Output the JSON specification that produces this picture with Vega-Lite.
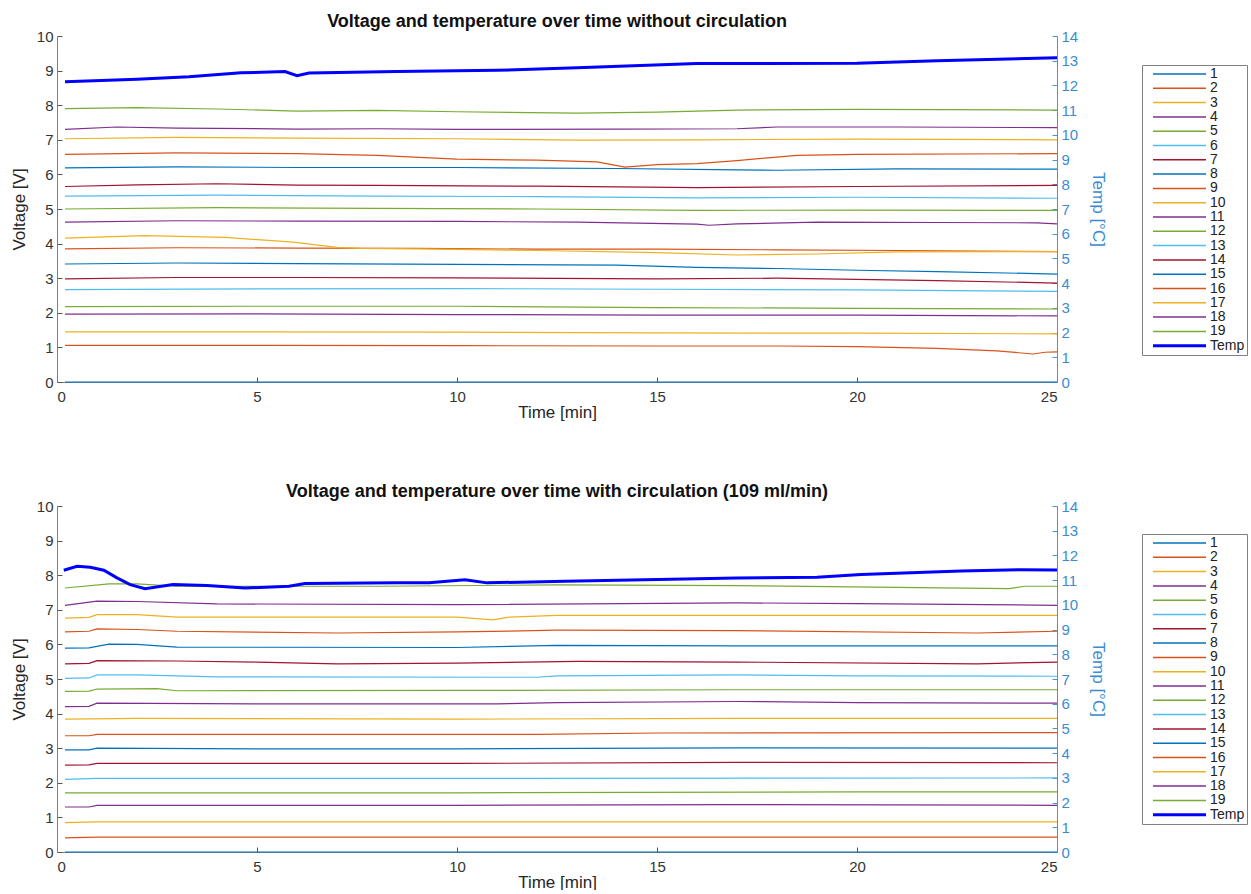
{
"$schema": "https://vega.github.io/schema/vega-lite/v6.json",
"padding": {"left": 10, "top": 13, "right": 0, "bottom": 0},
"background": "white",
"data": {"values": [
{"p":"A","s":"1","t":0.2,"v":0},{"p":"A","s":"1","t":25,"v":0},
{"p":"A","s":"2","t":0.2,"v":1.06},{"p":"A","s":"2","t":5,"v":1.06},{"p":"A","s":"2","t":10,"v":1.05},{"p":"A","s":"2","t":15,"v":1.04},{"p":"A","s":"2","t":18,"v":1.04},{"p":"A","s":"2","t":20,"v":1.02},{"p":"A","s":"2","t":22,"v":0.97},{"p":"A","s":"2","t":23.5,"v":0.9},{"p":"A","s":"2","t":24.4,"v":0.81},{"p":"A","s":"2","t":24.7,"v":0.86},{"p":"A","s":"2","t":25,"v":0.87},
{"p":"A","s":"3","t":0.2,"v":1.45},{"p":"A","s":"3","t":5,"v":1.45},{"p":"A","s":"3","t":10,"v":1.44},{"p":"A","s":"3","t":15,"v":1.42},{"p":"A","s":"3","t":20,"v":1.41},{"p":"A","s":"3","t":25,"v":1.39},
{"p":"A","s":"4","t":0.2,"v":1.96},{"p":"A","s":"4","t":5,"v":1.97},{"p":"A","s":"4","t":10,"v":1.95},{"p":"A","s":"4","t":15,"v":1.93},{"p":"A","s":"4","t":20,"v":1.93},{"p":"A","s":"4","t":25,"v":1.91},
{"p":"A","s":"5","t":0.2,"v":2.18},{"p":"A","s":"5","t":5,"v":2.19},{"p":"A","s":"5","t":10,"v":2.19},{"p":"A","s":"5","t":15,"v":2.15},{"p":"A","s":"5","t":20,"v":2.13},{"p":"A","s":"5","t":25,"v":2.11},
{"p":"A","s":"6","t":0.2,"v":2.67},{"p":"A","s":"6","t":5,"v":2.69},{"p":"A","s":"6","t":10,"v":2.7},{"p":"A","s":"6","t":15,"v":2.68},{"p":"A","s":"6","t":20,"v":2.66},{"p":"A","s":"6","t":25,"v":2.62},
{"p":"A","s":"7","t":0.2,"v":2.98},{"p":"A","s":"7","t":3,"v":3.02},{"p":"A","s":"7","t":6,"v":3.02},{"p":"A","s":"7","t":10,"v":3.01},{"p":"A","s":"7","t":15,"v":2.98},{"p":"A","s":"7","t":18,"v":3.0},{"p":"A","s":"7","t":22,"v":2.93},{"p":"A","s":"7","t":25,"v":2.86},
{"p":"A","s":"8","t":0.2,"v":3.41},{"p":"A","s":"8","t":3,"v":3.44},{"p":"A","s":"8","t":6,"v":3.42},{"p":"A","s":"8","t":10,"v":3.4},{"p":"A","s":"8","t":14,"v":3.38},{"p":"A","s":"8","t":16,"v":3.31},{"p":"A","s":"8","t":18,"v":3.28},{"p":"A","s":"8","t":20,"v":3.23},{"p":"A","s":"8","t":22,"v":3.19},{"p":"A","s":"8","t":25,"v":3.12},
{"p":"A","s":"9","t":0.2,"v":3.85},{"p":"A","s":"9","t":3,"v":3.88},{"p":"A","s":"9","t":6,"v":3.87},{"p":"A","s":"9","t":9,"v":3.86},{"p":"A","s":"9","t":12,"v":3.84},{"p":"A","s":"9","t":15,"v":3.84},{"p":"A","s":"9","t":18,"v":3.82},{"p":"A","s":"9","t":21,"v":3.8},{"p":"A","s":"9","t":25,"v":3.77},
{"p":"A","s":"10","t":0.2,"v":4.16},{"p":"A","s":"10","t":2.2,"v":4.23},{"p":"A","s":"10","t":4.2,"v":4.18},{"p":"A","s":"10","t":5.9,"v":4.04},{"p":"A","s":"10","t":7,"v":3.89},{"p":"A","s":"10","t":7.6,"v":3.86},{"p":"A","s":"10","t":9,"v":3.85},{"p":"A","s":"10","t":12,"v":3.8},{"p":"A","s":"10","t":15,"v":3.74},{"p":"A","s":"10","t":17,"v":3.67},{"p":"A","s":"10","t":19,"v":3.7},{"p":"A","s":"10","t":21,"v":3.76},{"p":"A","s":"10","t":25,"v":3.77},
{"p":"A","s":"11","t":0.2,"v":4.62},{"p":"A","s":"11","t":3,"v":4.66},{"p":"A","s":"11","t":6,"v":4.65},{"p":"A","s":"11","t":10,"v":4.64},{"p":"A","s":"11","t":13,"v":4.62},{"p":"A","s":"11","t":16,"v":4.56},{"p":"A","s":"11","t":16.3,"v":4.53},{"p":"A","s":"11","t":17,"v":4.57},{"p":"A","s":"11","t":19,"v":4.62},{"p":"A","s":"11","t":22,"v":4.61},{"p":"A","s":"11","t":24.5,"v":4.6},{"p":"A","s":"11","t":25,"v":4.57},
{"p":"A","s":"12","t":0.2,"v":5.0},{"p":"A","s":"12","t":4,"v":5.04},{"p":"A","s":"12","t":8,"v":5.02},{"p":"A","s":"12","t":12,"v":5.0},{"p":"A","s":"12","t":16,"v":4.96},{"p":"A","s":"12","t":20,"v":4.97},{"p":"A","s":"12","t":25,"v":4.96},
{"p":"A","s":"13","t":0.2,"v":5.37},{"p":"A","s":"13","t":4,"v":5.4},{"p":"A","s":"13","t":8,"v":5.37},{"p":"A","s":"13","t":12,"v":5.36},{"p":"A","s":"13","t":16,"v":5.32},{"p":"A","s":"13","t":20,"v":5.34},{"p":"A","s":"13","t":25,"v":5.31},
{"p":"A","s":"14","t":0.2,"v":5.65},{"p":"A","s":"14","t":2,"v":5.7},{"p":"A","s":"14","t":4,"v":5.73},{"p":"A","s":"14","t":6,"v":5.69},{"p":"A","s":"14","t":8,"v":5.68},{"p":"A","s":"14","t":12,"v":5.66},{"p":"A","s":"14","t":16,"v":5.62},{"p":"A","s":"14","t":20,"v":5.65},{"p":"A","s":"14","t":25,"v":5.68},
{"p":"A","s":"15","t":0.2,"v":6.19},{"p":"A","s":"15","t":3,"v":6.22},{"p":"A","s":"15","t":6,"v":6.2},{"p":"A","s":"15","t":10,"v":6.2},{"p":"A","s":"15","t":14,"v":6.17},{"p":"A","s":"15","t":17,"v":6.13},{"p":"A","s":"15","t":18,"v":6.12},{"p":"A","s":"15","t":21,"v":6.16},{"p":"A","s":"15","t":25,"v":6.15},
{"p":"A","s":"16","t":0.2,"v":6.58},{"p":"A","s":"16","t":3,"v":6.62},{"p":"A","s":"16","t":6,"v":6.6},{"p":"A","s":"16","t":8,"v":6.55},{"p":"A","s":"16","t":10,"v":6.44},{"p":"A","s":"16","t":12,"v":6.41},{"p":"A","s":"16","t":13.5,"v":6.36},{"p":"A","s":"16","t":14.2,"v":6.21},{"p":"A","s":"16","t":15,"v":6.28},{"p":"A","s":"16","t":16,"v":6.31},{"p":"A","s":"16","t":17,"v":6.4},{"p":"A","s":"16","t":18.5,"v":6.55},{"p":"A","s":"16","t":20,"v":6.58},{"p":"A","s":"16","t":25,"v":6.6},
{"p":"A","s":"17","t":0.2,"v":7.03},{"p":"A","s":"17","t":3,"v":7.07},{"p":"A","s":"17","t":6,"v":7.05},{"p":"A","s":"17","t":10,"v":7.03},{"p":"A","s":"17","t":13,"v":6.99},{"p":"A","s":"17","t":16,"v":7.0},{"p":"A","s":"17","t":20,"v":7.02},{"p":"A","s":"17","t":25,"v":7.0},
{"p":"A","s":"18","t":0.2,"v":7.3},{"p":"A","s":"18","t":1.5,"v":7.37},{"p":"A","s":"18","t":3,"v":7.34},{"p":"A","s":"18","t":6,"v":7.31},{"p":"A","s":"18","t":8,"v":7.32},{"p":"A","s":"18","t":10,"v":7.3},{"p":"A","s":"18","t":14,"v":7.31},{"p":"A","s":"18","t":17,"v":7.32},{"p":"A","s":"18","t":18,"v":7.37},{"p":"A","s":"18","t":21,"v":7.37},{"p":"A","s":"18","t":25,"v":7.35},
{"p":"A","s":"19","t":0.2,"v":7.9},{"p":"A","s":"19","t":2,"v":7.93},{"p":"A","s":"19","t":4,"v":7.89},{"p":"A","s":"19","t":6,"v":7.83},{"p":"A","s":"19","t":8,"v":7.85},{"p":"A","s":"19","t":10,"v":7.81},{"p":"A","s":"19","t":13,"v":7.77},{"p":"A","s":"19","t":15,"v":7.8},{"p":"A","s":"19","t":17,"v":7.86},{"p":"A","s":"19","t":20,"v":7.88},{"p":"A","s":"19","t":25,"v":7.86},
{"p":"A","s":"Temp","t":0.2,"v":12.15},{"p":"A","s":"Temp","t":2,"v":12.25},{"p":"A","s":"Temp","t":3.3,"v":12.35},{"p":"A","s":"Temp","t":4.6,"v":12.51},{"p":"A","s":"Temp","t":5.7,"v":12.56},{"p":"A","s":"Temp","t":6.0,"v":12.39},{"p":"A","s":"Temp","t":6.3,"v":12.5},{"p":"A","s":"Temp","t":8.5,"v":12.56},{"p":"A","s":"Temp","t":11,"v":12.61},{"p":"A","s":"Temp","t":13,"v":12.72},{"p":"A","s":"Temp","t":16,"v":12.89},{"p":"A","s":"Temp","t":17,"v":12.89},{"p":"A","s":"Temp","t":20,"v":12.9},{"p":"A","s":"Temp","t":22,"v":13.0},{"p":"A","s":"Temp","t":25,"v":13.12},
{"p":"B","s":"1","t":0.2,"v":0},{"p":"B","s":"1","t":25,"v":0},
{"p":"B","s":"2","t":0.2,"v":0.41},{"p":"B","s":"2","t":1,"v":0.43},{"p":"B","s":"2","t":10,"v":0.43},{"p":"B","s":"2","t":25,"v":0.43},
{"p":"B","s":"3","t":0.2,"v":0.85},{"p":"B","s":"3","t":1,"v":0.87},{"p":"B","s":"3","t":25,"v":0.87},
{"p":"B","s":"4","t":0.2,"v":1.3},{"p":"B","s":"4","t":0.8,"v":1.3},{"p":"B","s":"4","t":1,"v":1.35},{"p":"B","s":"4","t":10,"v":1.35},{"p":"B","s":"4","t":17,"v":1.37},{"p":"B","s":"4","t":25,"v":1.35},
{"p":"B","s":"5","t":0.2,"v":1.71},{"p":"B","s":"5","t":10,"v":1.71},{"p":"B","s":"5","t":20,"v":1.74},{"p":"B","s":"5","t":25,"v":1.74},
{"p":"B","s":"6","t":0.2,"v":2.1},{"p":"B","s":"6","t":1,"v":2.13},{"p":"B","s":"6","t":12,"v":2.13},{"p":"B","s":"6","t":25,"v":2.14},
{"p":"B","s":"7","t":0.2,"v":2.51},{"p":"B","s":"7","t":0.8,"v":2.52},{"p":"B","s":"7","t":1,"v":2.56},{"p":"B","s":"7","t":10,"v":2.56},{"p":"B","s":"7","t":17,"v":2.59},{"p":"B","s":"7","t":25,"v":2.58},
{"p":"B","s":"8","t":0.2,"v":2.95},{"p":"B","s":"8","t":0.8,"v":2.95},{"p":"B","s":"8","t":1,"v":3.0},{"p":"B","s":"8","t":5,"v":2.98},{"p":"B","s":"8","t":10,"v":2.98},{"p":"B","s":"8","t":17,"v":3.01},{"p":"B","s":"8","t":25,"v":3.0},
{"p":"B","s":"9","t":0.2,"v":3.36},{"p":"B","s":"9","t":0.8,"v":3.36},{"p":"B","s":"9","t":1,"v":3.4},{"p":"B","s":"9","t":12,"v":3.4},{"p":"B","s":"9","t":15,"v":3.44},{"p":"B","s":"9","t":25,"v":3.45},
{"p":"B","s":"10","t":0.2,"v":3.84},{"p":"B","s":"10","t":2,"v":3.86},{"p":"B","s":"10","t":10,"v":3.84},{"p":"B","s":"10","t":17,"v":3.86},{"p":"B","s":"10","t":25,"v":3.86},
{"p":"B","s":"11","t":0.2,"v":4.2},{"p":"B","s":"11","t":0.8,"v":4.21},{"p":"B","s":"11","t":1,"v":4.3},{"p":"B","s":"11","t":5,"v":4.28},{"p":"B","s":"11","t":11,"v":4.28},{"p":"B","s":"11","t":12.5,"v":4.32},{"p":"B","s":"11","t":17,"v":4.35},{"p":"B","s":"11","t":20,"v":4.32},{"p":"B","s":"11","t":25,"v":4.3},
{"p":"B","s":"12","t":0.2,"v":4.64},{"p":"B","s":"12","t":0.8,"v":4.65},{"p":"B","s":"12","t":1,"v":4.71},{"p":"B","s":"12","t":2.5,"v":4.72},{"p":"B","s":"12","t":3,"v":4.66},{"p":"B","s":"12","t":10,"v":4.67},{"p":"B","s":"12","t":17,"v":4.69},{"p":"B","s":"12","t":25,"v":4.69},
{"p":"B","s":"13","t":0.2,"v":5.02},{"p":"B","s":"13","t":0.8,"v":5.03},{"p":"B","s":"13","t":1,"v":5.12},{"p":"B","s":"13","t":2,"v":5.12},{"p":"B","s":"13","t":4,"v":5.06},{"p":"B","s":"13","t":12,"v":5.05},{"p":"B","s":"13","t":12.5,"v":5.09},{"p":"B","s":"13","t":17,"v":5.12},{"p":"B","s":"13","t":20,"v":5.09},{"p":"B","s":"13","t":25,"v":5.08},
{"p":"B","s":"14","t":0.2,"v":5.44},{"p":"B","s":"14","t":0.8,"v":5.45},{"p":"B","s":"14","t":1,"v":5.53},{"p":"B","s":"14","t":3,"v":5.52},{"p":"B","s":"14","t":5,"v":5.49},{"p":"B","s":"14","t":7,"v":5.44},{"p":"B","s":"14","t":10,"v":5.46},{"p":"B","s":"14","t":13,"v":5.51},{"p":"B","s":"14","t":17,"v":5.49},{"p":"B","s":"14","t":23,"v":5.44},{"p":"B","s":"14","t":25,"v":5.49},
{"p":"B","s":"15","t":0.2,"v":5.89},{"p":"B","s":"15","t":0.8,"v":5.9},{"p":"B","s":"15","t":1.3,"v":6.01},{"p":"B","s":"15","t":2,"v":6.0},{"p":"B","s":"15","t":3,"v":5.92},{"p":"B","s":"15","t":10,"v":5.91},{"p":"B","s":"15","t":12.5,"v":5.97},{"p":"B","s":"15","t":17,"v":5.96},{"p":"B","s":"15","t":25,"v":5.96},
{"p":"B","s":"16","t":0.2,"v":6.36},{"p":"B","s":"16","t":0.8,"v":6.38},{"p":"B","s":"16","t":1,"v":6.45},{"p":"B","s":"16","t":2,"v":6.43},{"p":"B","s":"16","t":3,"v":6.38},{"p":"B","s":"16","t":7,"v":6.33},{"p":"B","s":"16","t":10,"v":6.36},{"p":"B","s":"16","t":12.5,"v":6.41},{"p":"B","s":"16","t":17,"v":6.4},{"p":"B","s":"16","t":23,"v":6.33},{"p":"B","s":"16","t":25,"v":6.38},
{"p":"B","s":"17","t":0.2,"v":6.76},{"p":"B","s":"17","t":0.8,"v":6.78},{"p":"B","s":"17","t":1,"v":6.86},{"p":"B","s":"17","t":2,"v":6.86},{"p":"B","s":"17","t":3,"v":6.79},{"p":"B","s":"17","t":10,"v":6.79},{"p":"B","s":"17","t":10.9,"v":6.71},{"p":"B","s":"17","t":11.3,"v":6.79},{"p":"B","s":"17","t":12.5,"v":6.84},{"p":"B","s":"17","t":25,"v":6.84},
{"p":"B","s":"18","t":0.2,"v":7.13},{"p":"B","s":"18","t":1,"v":7.25},{"p":"B","s":"18","t":2,"v":7.24},{"p":"B","s":"18","t":4,"v":7.17},{"p":"B","s":"18","t":10,"v":7.15},{"p":"B","s":"18","t":17,"v":7.2},{"p":"B","s":"18","t":20,"v":7.18},{"p":"B","s":"18","t":25,"v":7.13},
{"p":"B","s":"19","t":0.2,"v":7.63},{"p":"B","s":"19","t":1.3,"v":7.75},{"p":"B","s":"19","t":2,"v":7.75},{"p":"B","s":"19","t":3,"v":7.68},{"p":"B","s":"19","t":8,"v":7.68},{"p":"B","s":"19","t":12.5,"v":7.72},{"p":"B","s":"19","t":17,"v":7.7},{"p":"B","s":"19","t":23.8,"v":7.61},{"p":"B","s":"19","t":24.2,"v":7.68},{"p":"B","s":"19","t":25,"v":7.68},
{"p":"B","s":"Temp","t":0.17,"v":11.4},{"p":"B","s":"Temp","t":0.5,"v":11.56},{"p":"B","s":"Temp","t":0.83,"v":11.52},{"p":"B","s":"Temp","t":1.17,"v":11.4},{"p":"B","s":"Temp","t":1.5,"v":11.09},{"p":"B","s":"Temp","t":1.83,"v":10.82},{"p":"B","s":"Temp","t":2.2,"v":10.65},{"p":"B","s":"Temp","t":2.9,"v":10.82},{"p":"B","s":"Temp","t":3.75,"v":10.78},{"p":"B","s":"Temp","t":4.7,"v":10.68},{"p":"B","s":"Temp","t":5.8,"v":10.75},{"p":"B","s":"Temp","t":6.2,"v":10.86},{"p":"B","s":"Temp","t":8.5,"v":10.89},{"p":"B","s":"Temp","t":9.3,"v":10.89},{"p":"B","s":"Temp","t":10.2,"v":11.02},{"p":"B","s":"Temp","t":10.75,"v":10.89},{"p":"B","s":"Temp","t":12.7,"v":10.96},{"p":"B","s":"Temp","t":17,"v":11.09},{"p":"B","s":"Temp","t":19,"v":11.12},{"p":"B","s":"Temp","t":20.1,"v":11.23},{"p":"B","s":"Temp","t":22.6,"v":11.37},{"p":"B","s":"Temp","t":24.1,"v":11.42},{"p":"B","s":"Temp","t":25,"v":11.41}
]},
"config": {
  "font": "Liberation Sans",
  "view": {"stroke": null},
  "axis": {"grid": false, "labelFontSize": 15, "titleFontSize": 17, "titleFontWeight": "normal", "labelColor": "#333333", "titleColor": "#262626", "domainColor": "#7f7f7f", "tickColor": "#555555", "tickSize": -5, "labelPadding": 9, "titlePadding": 4},
  "axisLeft": {"titlePadding": 8},
  "axisRight": {"titlePadding": 11},
  "axisBottom": {"labelPadding": 12, "titlePadding": 0},
  "title": {"fontSize": 18, "fontWeight": "bold", "color": "#111111", "offset": -2, "anchor": "middle"},
  "legend": {"labelFontSize": 14, "labelColor": "#222222", "symbolType": "M0.4,0H11", "symbolSize": 100, "symbolStrokeWidth": 1.5, "strokeColor": "#808080", "fillColor": "white", "padding": 2, "rowPadding": 0.3, "labelOffset": 52}
},
"spacing": 63,
"resolve": {"scale": {"color": "independent"}},
"vconcat": [
 {
  "title": "Voltage and temperature over time without circulation",
  "width": 1000, "height": 346,
  "resolve": {"scale": {"y": "independent"}},
  "layer": [
   {"transform": [{"filter": "datum.p == 'A' && datum.s != 'Temp'"}],
    "mark": {"type": "line", "strokeWidth": 1.2},
    "encoding": {
     "x": {"field": "t", "type": "quantitative", "scale": {"domain": [0, 25], "nice": false}, "axis": {"title": "Time [min]", "values": [0,5,10,15,20,25]}},
     "y": {"field": "v", "type": "quantitative", "scale": {"domain": [0, 10], "nice": false}, "axis": {"orient": "left", "title": "Voltage [V]", "values": [0,1,2,3,4,5,6,7,8,9,10]}},
     "color": {"field": "s", "type": "nominal", "scale": {"domain": ["1","2","3","4","5","6","7","8","9","10","11","12","13","14","15","16","17","18","19","Temp"], "range": ["#0072BD","#D95319","#EDB120","#7E2F8E","#77AC30","#4DBEEE","#A2142F","#0072BD","#D95319","#EDB120","#7E2F8E","#77AC30","#4DBEEE","#A2142F","#0072BD","#D95319","#EDB120","#7E2F8E","#77AC30","#0000FF"]}, "legend": {"title": null, "orient": "none", "legendX": 1085, "legendY": 29, "encode": {"symbols": {"update": {"strokeWidth": {"signal": "datum.value === 'Temp' ? 3 : 1.5"}}}}}}
    }},
   {"transform": [{"filter": "datum.p == 'A' && datum.s == 'Temp'"}],
    "mark": {"type": "line", "strokeWidth": 3},
    "encoding": {
     "x": {"field": "t", "type": "quantitative"},
     "y": {"field": "v", "type": "quantitative", "scale": {"domain": [0, 14], "nice": false}, "axis": {"orient": "right", "title": "Temp [°C]", "values": [0,1,2,3,4,5,6,7,8,9,10,11,12,13,14], "domainColor": "#4a94d4", "tickColor": "#4a94d4", "labelColor": "#3b8ccf", "titleColor": "#3b8ccf"}},
     "color": {"field": "s", "type": "nominal"}
    }}
  ]
 },
 {
  "title": "Voltage and temperature over time with circulation (109 ml/min)",
  "width": 1000, "height": 346,
  "resolve": {"scale": {"y": "independent"}},
  "layer": [
   {"transform": [{"filter": "datum.p == 'B' && datum.s != 'Temp'"}],
    "mark": {"type": "line", "strokeWidth": 1.2},
    "encoding": {
     "x": {"field": "t", "type": "quantitative", "scale": {"domain": [0, 25], "nice": false}, "axis": {"title": "Time [min]", "values": [0,5,10,15,20,25]}},
     "y": {"field": "v", "type": "quantitative", "scale": {"domain": [0, 10], "nice": false}, "axis": {"orient": "left", "title": "Voltage [V]", "values": [0,1,2,3,4,5,6,7,8,9,10]}},
     "color": {"field": "s", "type": "nominal", "scale": {"domain": ["1","2","3","4","5","6","7","8","9","10","11","12","13","14","15","16","17","18","19","Temp"], "range": ["#0072BD","#D95319","#EDB120","#7E2F8E","#77AC30","#4DBEEE","#A2142F","#0072BD","#D95319","#EDB120","#7E2F8E","#77AC30","#4DBEEE","#A2142F","#0072BD","#D95319","#EDB120","#7E2F8E","#77AC30","#0000FF"]}, "legend": {"title": null, "orient": "none", "legendX": 1085, "legendY": 28, "encode": {"symbols": {"update": {"strokeWidth": {"signal": "datum.value === 'Temp' ? 3 : 1.5"}}}}}}
    }},
   {"transform": [{"filter": "datum.p == 'B' && datum.s == 'Temp'"}],
    "mark": {"type": "line", "strokeWidth": 3},
    "encoding": {
     "x": {"field": "t", "type": "quantitative"},
     "y": {"field": "v", "type": "quantitative", "scale": {"domain": [0, 14], "nice": false}, "axis": {"orient": "right", "title": "Temp [°C]", "values": [0,1,2,3,4,5,6,7,8,9,10,11,12,13,14], "domainColor": "#4a94d4", "tickColor": "#4a94d4", "labelColor": "#3b8ccf", "titleColor": "#3b8ccf"}},
     "color": {"field": "s", "type": "nominal"}
    }}
  ]
 }
]
}
